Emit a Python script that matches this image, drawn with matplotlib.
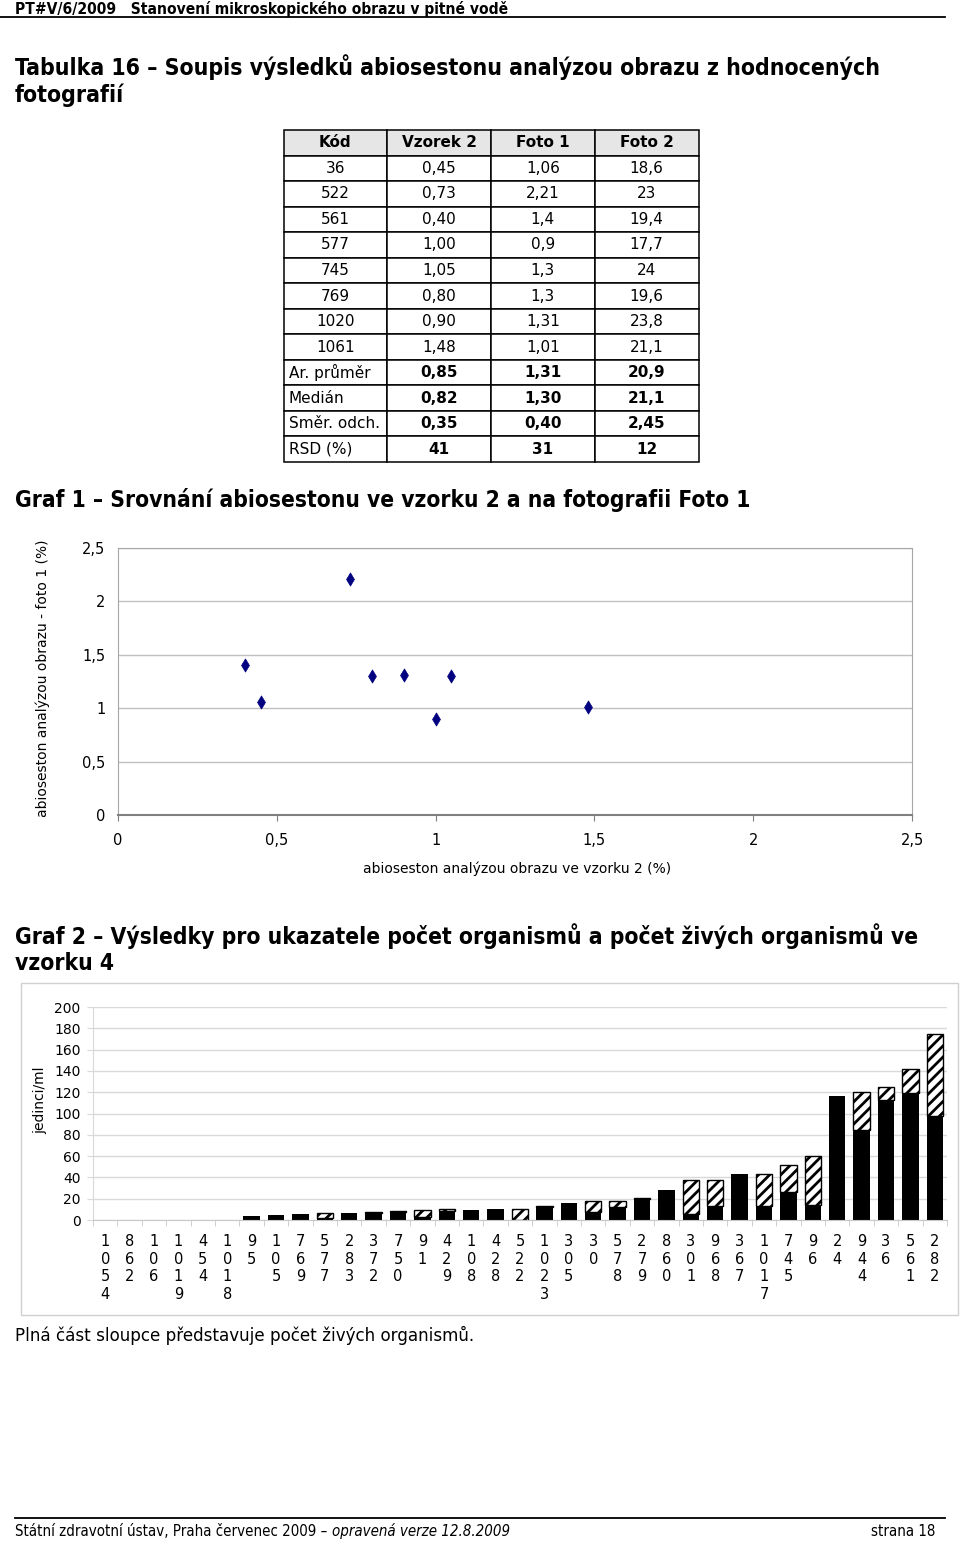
import matplotlib
matplotlib.use("Agg")
import matplotlib.pyplot as plt
import numpy as np
from matplotlib.lines import Line2D
from matplotlib.patches import Rectangle

# ---------------- data ----------------
table_header = ["Kód", "Vzorek 2", "Foto 1", "Foto 2"]
table_codes = ["36", "522", "561", "577", "745", "769", "1020", "1061"]
table_vzorek2 = ["0,45", "0,73", "0,40", "1,00", "1,05", "0,80", "0,90", "1,48"]
table_foto1 = ["1,06", "2,21", "1,4", "0,9", "1,3", "1,3", "1,31", "1,01"]
table_foto2 = ["18,6", "23", "19,4", "17,7", "24", "19,6", "23,8", "21,1"]
stats_labels = ["Ar. průměr", "Medián", "Směr. odch.", "RSD (%)"]
stats_vzorek2 = ["0,85", "0,82", "0,35", "41"]
stats_foto1 = ["1,31", "1,30", "0,40", "31"]
stats_foto2 = ["20,9", "21,1", "2,45", "12"]

scatter_x = [0.45, 0.73, 0.40, 1.00, 1.05, 0.80, 0.90, 1.48]
scatter_y = [1.06, 2.21, 1.4, 0.9, 1.3, 1.3, 1.31, 1.01]
g1_ticks = [0, 0.5, 1, 1.5, 2, 2.5]
g1_ticklabels = ["0", "0,5", "1", "1,5", "2", "2,5"]

g2_codes = ["1054", "862", "106", "1019", "454", "1018", "95", "105", "769", "577",
            "283", "372", "750", "91", "429", "108", "428", "522", "1023", "305",
            "30", "578", "279", "860", "301", "968", "367", "1017", "745", "96",
            "24", "944", "36", "561", "282"]
g2_total = [0, 0, 0, 0, 0, 0, 4, 4.7, 6, 6.3,
            7, 7.6, 8.8, 9.6, 10, 9.6, 10, 10, 13, 16,
            17.8, 17.8, 21, 27.8, 37.2, 37.2, 43.1, 43.1, 51.6, 59.7,
            116, 120.3, 125, 141.6, 174.7]
g2_living = [0, 0, 0, 0, 0, 0, 4, 4.7, 6, 2,
             7, 7, 7.5, 3, 8.8, 9.6, 10, 0, 12, 16,
             7.8, 11.9, 19.5, 27.8, 5.3, 12.8, 43.1, 12.8, 25.9, 14,
             116, 84.4, 112.8, 119.4, 97.2]
g2_yticks = [0, 20, 40, 60, 80, 100, 120, 140, 160, 180, 200]

# ---------------- figure ----------------
W, H = 960, 1543
fig = plt.figure(figsize=(W / 100, H / 100), dpi=100)
plt.rcParams['hatch.linewidth'] = 2.0

def fx(x):
    return x / W

def fy(y):
    return 1 - y / H

renderer = fig.canvas.get_renderer()

def fit(t, target_w):
    bb = t.get_window_extent(renderer=renderer)
    t.set_fontsize(t.get_fontsize() * target_w / bb.width)
    return t

def ftext(x, y, s, w=None, **kw):
    kw.setdefault('va', 'center')
    t = fig.text(fx(x), fy(y), s, **kw)
    if w is not None:
        fit(t, w)
    return t

# header
ftext(15, 9, "PT#V/6/2009   Stanovení mikroskopického obrazu v pitné vodě", w=493,
      fontsize=11, fontweight='bold', fontstretch='condensed')
fig.add_artist(Line2D([fx(0), fx(945)], [fy(17), fy(17)], color='black', lw=1.3))

# table title
t1 = ftext(15, 67, "Tabulka 16 – Soupis výsledků abiosestonu analýzou obrazu z hodnocených",
           w=865, fontsize=16, fontweight='bold', fontstretch='condensed')
ftext(15, 95, "fotografií", fontsize=t1.get_fontsize(), fontweight='bold',
      fontstretch='condensed')

# ---------------- table ----------------
ax_t = fig.add_axes([fx(283.5), fy(462), fx(698.5) - fx(283.5), fy(130) - fy(462)])
ax_t.axis('off')
cells = [[c, a, b, d] for c, a, b, d in zip(table_codes, table_vzorek2, table_foto1, table_foto2)]
cells += [[c, a, b, d] for c, a, b, d in zip(stats_labels, stats_vzorek2, stats_foto1, stats_foto2)]
tbl = ax_t.table(cellText=cells, colLabels=table_header, bbox=[0, 0, 1, 1], cellLoc='center')
tbl.auto_set_font_size(False)
tbl.set_fontsize(11)
for (r, c), cell in tbl.get_celld().items():
    cell.set_edgecolor('black')
    cell.set_linewidth(1.1)
    if r == 0:
        cell.set_facecolor('#e6e6e6')
        cell.get_text().set_fontweight('bold')
    if r > len(table_codes):
        if c == 0:
            cell.get_text().set_ha('left')
            cell.PAD = 0.05
            cell._loc = 'left'
        else:
            cell.get_text().set_fontweight('bold')

# ---------------- Graf 1 ----------------
ftext(15, 500, "Graf 1 – Srovnání abiosestonu ve vzorku 2 a na fotografii Foto 1", w=737,
      fontsize=16, fontweight='bold', fontstretch='condensed')

ax1 = fig.add_axes([fx(118), fy(815), fx(912) - fx(118), fy(548) - fy(815)])
ax1.scatter(scatter_x, scatter_y, marker='d', s=45, color='#000080', zorder=3,
            edgecolors='#000080', linewidths=0.5)
ax1.set_xlim(0, 2.5)
ax1.set_ylim(0, 2.5)
ax1.set_xticks(g1_ticks)
ax1.set_xticklabels(g1_ticklabels)
ax1.set_yticks(g1_ticks)
ax1.set_yticklabels(g1_ticklabels)
ax1.yaxis.grid(True, color='#c0c0c0', lw=1)
ax1.set_axisbelow(True)
for s in ['top', 'right', 'left']:
    ax1.spines[s].set_color('#a6a6a6')
ax1.spines['bottom'].set_color('#808080')
ax1.spines['bottom'].set_linewidth(1.5)
ax1.tick_params(axis='y', length=0, pad=9, labelsize=10.5)
ax1.tick_params(axis='x', length=4, direction='out', color='#808080', pad=9, labelsize=10.5)
ax1.set_xlabel("abioseston analýzou obrazu ve vzorku 2 (%)", fontsize=10)
ax1.set_ylabel("abioseston analýzou obrazu - foto 1 (%)", fontsize=10)
ax1.xaxis.set_label_coords(0.5025, -0.176)
ax1.yaxis.set_label_coords(-0.086, 0.513)

# ---------------- Graf 2 ----------------
t = ftext(15, 936, "Graf 2 – Výsledky pro ukazatele počet organismů a počet živých organismů ve",
          w=903, fontsize=16, fontweight='bold', fontstretch='condensed')
ftext(15, 963, "vzorku 4", fontsize=t.get_fontsize(), fontweight='bold', fontstretch='condensed')

fig.add_artist(Rectangle((fx(21), fy(1315)), fx(958) - fx(21), fy(983) - fy(1315),
                         transform=fig.transFigure, fill=False, edgecolor='#d0d0d0', lw=1))

ax2 = fig.add_axes([fx(93), fy(1220), fx(947) - fx(93), fy(1007) - fy(1220)])
xpos = np.arange(len(g2_codes))
total = np.array(g2_total)
living = np.array(g2_living)
dead = total - living
ax2.bar(xpos, living, width=0.68, color='black', edgecolor='black', lw=0, zorder=2)
ax2.bar(xpos, dead, bottom=living, width=0.68, color='white', edgecolor='black',
        hatch='///', linewidth=[1.0 if d > 0 else 0 for d in dead], zorder=2)
ax2.set_xlim(-0.5, len(g2_codes) - 0.5)
ax2.set_ylim(0, 200)
ax2.set_yticks(g2_yticks)
ax2.yaxis.grid(True, color='#d9d9d9', lw=1)
ax2.set_axisbelow(True)
ax2.set_xticks(xpos)
ax2.set_xticklabels(["\n".join(c) for c in g2_codes], fontsize=10.5, linespacing=1.22)
ax2.set_xticks(np.arange(len(g2_codes) + 1) - 0.5, minor=True)
ax2.tick_params(axis='x', which='major', length=0, pad=10)
ax2.tick_params(axis='x', which='minor', length=4, color='#c8c8c8', direction='out')
ax2.tick_params(axis='y', length=4, color='#d9d9d9', pad=5, labelsize=10)
for s in ['top', 'right']:
    ax2.spines[s].set_visible(False)
ax2.spines['left'].set_color('#d9d9d9')
ax2.spines['bottom'].set_color('#c8c8c8')
ax2.set_ylabel("jedinci/ml", fontsize=10)
ax2.yaxis.set_label_coords(-0.054, 0.563)

ftext(15, 1335, "Plná část sloupce představuje počet živých organismů.", w=461, fontsize=13)

# ---------------- footer ----------------
fig.add_artist(Line2D([fx(15), fx(945)], [fy(1518), fy(1518)], color='black', lw=1.3))
f1 = ftext(15, 1531, "Státní zdravotní ústav, Praha červenec 2009 – ", fontsize=11,
           fontstretch='condensed')
f2 = fig.text(0, fy(1531), "opravená verze 12.8.2009", fontsize=11, fontstyle='italic',
              fontstretch='condensed', va='center')
b1 = f1.get_window_extent(renderer=renderer)
b2 = f2.get_window_extent(renderer=renderer)
scale = 495 / (b1.width + b2.width)
f1.set_fontsize(11 * scale)
f2.set_fontsize(11 * scale)
b1 = f1.get_window_extent(renderer=renderer)
f2.set_x(fx(15 + b1.width))
ftext(935, 1531, "strana 18", fontsize=11 * scale, ha='right', fontstretch='condensed')

fig.savefig("out.png", dpi=100)
